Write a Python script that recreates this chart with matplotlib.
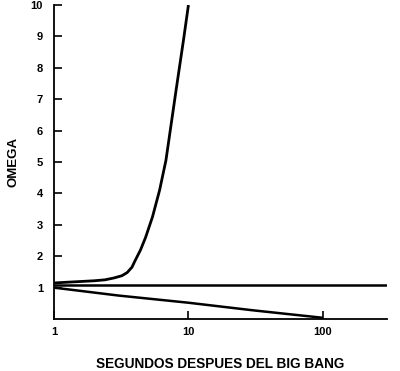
import matplotlib
matplotlib.use("Agg")
import matplotlib.pyplot as plt

plt.rcParams['font.family'] = ['Liberation Sans', 'DejaVu Sans']

# segundos despues del big bang / omega
t_flat = [1, 300]
om_flat = [1.07, 1.07]
t_open = [1, 3, 10, 30, 100]
om_open = [1.0, 0.75, 0.52, 0.28, 0.04]
t_closed = [1, 2, 2.4, 2.8, 3.2, 3.5, 3.8, 4.0, 4.4, 4.8, 5.4, 6.1, 6.8, 8.1, 9.2, 10.0]
om_closed = [1.15, 1.22, 1.25, 1.31, 1.38, 1.48, 1.65, 1.85, 2.2, 2.6, 3.25, 4.1, 5.05, 7.3, 8.9, 10.0]

fig = plt.figure(figsize=(4.0, 3.71), dpi=100)
ax = fig.add_axes([0.135, 0.14, 0.8325, 0.8465])
ax.plot(t_flat, om_flat, color="black", lw=1.8, solid_capstyle="butt")
ax.plot(t_open, om_open, color="black", lw=1.8, solid_capstyle="butt")
ax.plot(t_closed, om_closed, color="black", lw=2.0, solid_capstyle="butt")

ax.set_xscale("log")
ax.set_xlim(1, 300)
ax.set_ylim(0, 10)
ax.set_xticks([1, 10, 100])
ax.set_xticklabels(["1", "10", "100"])
ax.minorticks_off()
ax.set_yticks(range(1, 11))
ax.set_yticklabels([str(i) for i in range(1, 11)])
ax.tick_params(direction="in", length=6, width=1.2, labelsize=8)
ax.tick_params(axis="y", pad=8)
ax.tick_params(axis="x", pad=6)
for lab in ax.get_xticklabels() + ax.get_yticklabels():
    lab.set_fontweight("bold")
for s in ["top", "right"]:
    ax.spines[s].set_visible(False)
for s in ["left", "bottom"]:
    ax.spines[s].set_linewidth(1.3)
ax.set_xlabel("SEGUNDOS DESPUES DEL BIG BANG", fontsize=9.8, fontweight="bold", labelpad=14)
ax.set_ylabel("OMEGA", fontsize=9.5, fontweight="bold", labelpad=8)

fig.savefig("out.png", dpi=100, facecolor="white")
